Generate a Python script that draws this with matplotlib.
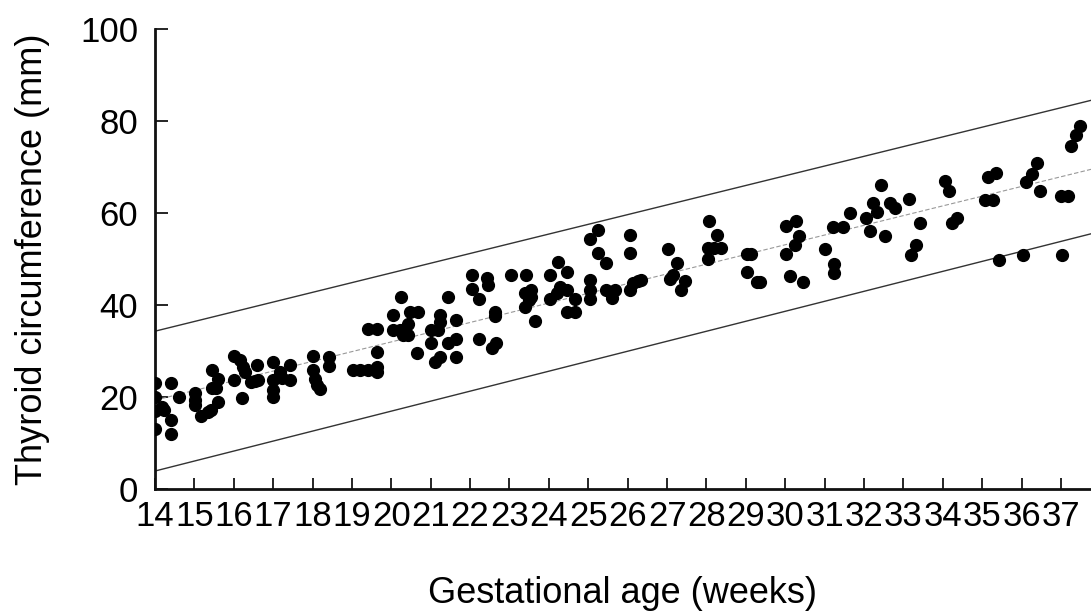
import matplotlib
matplotlib.use("Agg")
import matplotlib.pyplot as plt
import numpy as np

# gestational age (weeks) and thyroid circumference (mm)
weeks = [14.0, 14.0, 14.0, 14.0, 14.17, 14.23, 14.4, 14.4, 14.4, 14.6,
         15.02, 15.02, 15.02, 15.18, 15.35, 15.43, 15.44, 15.44, 15.55, 15.61, 15.61,
         16.0, 16.0, 16.16, 16.2, 16.24, 16.28, 16.45, 16.55, 16.62, 16.58,
         17.0, 17.0, 17.0, 17.0, 17.17, 17.22, 17.43, 17.43,
         18.02, 18.02, 18.06, 18.12, 18.19, 18.42, 18.42,
         19.03, 19.2, 19.41, 19.41, 19.63, 19.63, 19.63, 19.63,
         20.05, 20.05, 20.24, 20.22, 20.3, 20.43, 20.43, 20.47, 20.68, 20.64,
         21.02, 21.02, 21.1, 21.19, 21.23, 21.23, 21.23, 21.44, 21.44, 21.63, 21.63, 21.63,
         22.04, 22.04, 22.22, 22.22, 22.42, 22.46, 22.55, 22.65, 22.63, 22.63,
         23.05, 23.43, 23.4, 23.4, 23.55, 23.55, 23.5, 23.64,
         24.03, 24.03, 24.24, 24.45, 24.45, 24.28, 24.2, 24.45, 24.66, 24.66,
         25.04, 25.04, 25.04, 25.04, 25.25, 25.25, 25.46, 25.46, 25.67, 25.6,
         26.06, 26.06, 26.06, 26.13, 26.35, 26.25,
         27.03, 27.24, 27.07, 27.15, 27.45, 27.35,
         28.07, 28.27, 28.05, 28.2, 28.38, 28.05,
         29.02, 29.14, 29.03, 29.27, 29.36,
         30.03, 30.27, 30.35, 30.24, 30.03, 30.13, 30.45,
         31.02, 31.23, 31.23, 31.21, 31.47, 31.64,
         32.04, 32.15, 32.23, 32.32, 32.42, 32.65, 32.78, 32.53,
         33.15, 33.42, 33.33, 33.2,
         34.05, 34.16, 34.36, 34.22,
         35.15, 35.36, 35.07, 35.26, 35.43,
         36.12, 36.25, 36.38, 36.46, 36.04,
         37.01, 37.18, 37.03, 37.26, 37.37, 37.48]
circumference = [23.0, 20.1, 17.0, 13.0, 17.9, 17.2, 23.0, 15.0, 12.0, 19.9,
                 20.8, 19.3, 18.3, 15.8, 16.8, 17.2, 25.9, 22.0, 21.9, 24.0, 19.0,
                 29.0, 23.8, 28.0, 19.8, 26.6, 25.5, 23.3, 23.5, 23.7, 27.0,
                 27.5, 23.7, 21.5, 20.0, 25.5, 24.1, 27.0, 23.7,
                 28.9, 25.9, 23.9, 22.6, 21.8, 28.8, 26.8,
                 25.9, 25.9, 25.9, 34.8, 34.8, 29.8, 26.6, 25.5,
                 37.8, 34.6, 41.7, 34.6, 33.5, 35.9, 33.5, 38.5, 38.5, 29.6,
                 34.6, 31.7, 27.7, 34.6, 37.8, 36.4, 28.6, 41.7, 31.7, 36.7, 32.6, 28.6,
                 46.5, 43.4, 41.4, 32.6, 45.8, 44.3, 30.6, 31.7, 38.5, 37.5,
                 46.5, 46.5, 42.5, 39.6, 41.8, 43.3, 41.1, 36.5,
                 46.5, 41.4, 49.4, 47.2, 43.3, 44.0, 42.6, 38.5, 38.5, 41.4,
                 45.4, 43.3, 41.4, 54.3, 56.3, 51.3, 49.2, 43.3, 43.3, 41.5,
                 55.2, 51.3, 43.3, 44.8, 45.4, 45.2,
                 52.1, 49.2, 45.6, 46.5, 45.3, 43.3,
                 58.3, 55.2, 52.3, 52.3, 52.3, 50.1,
                 51.0, 51.0, 47.1, 45.1, 45.1,
                 57.2, 58.3, 55.1, 53.0, 51.0, 46.2, 45.1,
                 52.1, 49.0, 46.9, 56.9, 56.9, 60.1,
                 59.0, 56.1, 62.1, 60.3, 66.1, 62.1, 61.0, 55.0,
                 63.0, 57.9, 53.0, 50.9,
                 67.0, 64.8, 59.0, 57.9,
                 67.8, 68.8, 62.8, 62.8, 49.8,
                 66.7, 68.5, 70.8, 64.7, 50.9,
                 63.6, 63.6, 50.9, 74.6, 77.0, 78.9]

# reference curves (mean and limits) at the two ends of the range
ref_weeks = [14, 38]
upper = [34.3, 85.0]
mean = [19.3, 70.0]
lower = [3.9, 56.0]

week_ticks = list(range(14, 38))

fig = plt.figure(figsize=(10.91, 6.12), dpi=100)
ax = fig.add_axes([0.142, 0.201, 0.858, 0.7516])

ax.plot(ref_weeks, upper, color="#333333", lw=1.0)
ax.plot(ref_weeks, lower, color="#333333", lw=1.0)
ax.plot(ref_weeks, mean, color="#999999", lw=0.8, ls=(0, (4, 2)))
ax.plot(weeks, circumference, "o", color="black", ms=8.5, mec="black", zorder=3)

ax.set_xlim(14, 37.76)
ax.set_ylim(0, 100)
ax.set_yticks([0, 20, 40, 60, 80, 100])
ax.set_xticks(week_ticks)

for s in ["top", "right"]:
    ax.spines[s].set_visible(False)
for s in ["left", "bottom"]:
    ax.spines[s].set_linewidth(2.0)
    ax.spines[s].set_color("#111111")

ax.tick_params(axis="y", direction="in", length=9, width=1.2, pad=12)
ax.tick_params(axis="x", direction="in", length=8, width=1.2, pad=8)
for lab in ax.get_xticklabels() + ax.get_yticklabels():
    lab.set_family(["Liberation Sans Narrow", "Liberation Sans"])
    lab.set_fontsize(25)

ax.set_xlabel("Gestational age (weeks)", fontsize=26, family="Liberation Sans")
ax.set_ylabel("Thyroid circumference (mm)", fontsize=26, family="Liberation Sans")
ax.xaxis.set_label_coords(0.499, -0.19)
ax.yaxis.set_label_coords(-0.112, 0.5)

fig.savefig("out.png", dpi=100)
